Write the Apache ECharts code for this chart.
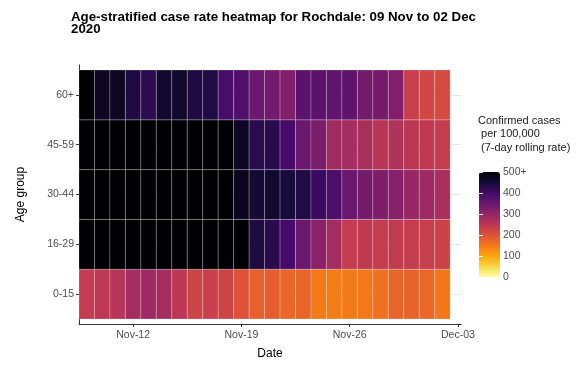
<!DOCTYPE html>
<html>
<head>
    <meta charset="UTF-8">
    <title>Rochdale heatmap</title>
    <script src="https://cdn.jsdelivr.net/npm/echarts@6/dist/echarts.min.js"></script>
</head>
<body style="margin:0">
<div id="main" style="width: 585px;height:365px;"></div>

<script>
    // days shown, Nov-09 .. Dec-02
    var dates = ['Nov-09', 'Nov-10', 'Nov-11', 'Nov-12', 'Nov-13', 'Nov-14', 'Nov-15', 'Nov-16',
        'Nov-17', 'Nov-18', 'Nov-19', 'Nov-20', 'Nov-21', 'Nov-22', 'Nov-23', 'Nov-24', 'Nov-25',
        'Nov-26', 'Nov-27', 'Nov-28', 'Nov-29', 'Nov-30', 'Dec-01', 'Dec-02'];
    var ageGroups = ['0-15', '16-29', '30-44', '45-59', '60+'];

    // x ticks (day index from Nov-09) and their labels
    var dateTickIdx = [3, 10, 17, 24];
    var dateTickLabels = ['Nov-12', 'Nov-19', 'Nov-26', 'Dec-03'];
    var legendTicks = [0, 100, 200, 300, 400, 500];

    // 7-day rolling rate per 100,000, one array per age group
    var rate0to15 = [240, 248, 256, 278, 288, 280, 250, 225, 232, 225, 200, 180,
        185, 172, 174, 148, 146, 148, 150, 160, 175, 177, 172, 152];
    var rate16to29 = [700, 760, 800, 820, 810, 790, 760, 720, 680, 620, 540, 442,
        428, 395, 350, 312, 280, 240, 245, 240, 242, 238, 235, 228];
    var rate30to44 = [620, 680, 700, 690, 680, 660, 650, 630, 600, 560, 476, 455,
        460, 446, 438, 410, 386, 350, 338, 326, 318, 294, 288, 274];
    var rate45to59 = [600, 640, 660, 650, 640, 620, 610, 590, 570, 540, 470, 428,
        430, 395, 350, 330, 285, 278, 272, 255, 262, 250, 246, 240];
    var rate60plus = [520, 470, 470, 440, 425, 458, 462, 440, 438, 392, 382, 348,
        340, 322, 370, 368, 362, 364, 338, 335, 322, 234, 220, 212];

    var rows = [rate0to15, rate16to29, rate30to44, rate45to59, rate60plus];

    // inferno, low -> high
    var inferno = ['#fcffa4', '#f6d746', '#fca50a', '#f37819', '#dd513a', '#bc3754',
        '#932667', '#6a176e', '#420a68', '#160b39', '#000004'];

    var cells = [];
    rows.forEach(function (row, yi) {
        row.forEach(function (v, xi) {
            cells.push([xi, yi, v]);
        });
    });

    var font = 'Liberation Sans, Arial, sans-serif';
    var labelGrey = '#4d4d4d';

    var myChart = echarts.init(document.getElementById('main'));
    var option = {
        animation: false,
        title: [{
            text: 'Age-stratified case rate heatmap for Rochdale: 09 Nov to 02 Dec\n2020',
            left: 71,
            top: 11,
            padding: 0,
            textStyle: {fontFamily: font, fontSize: 13.3, fontWeight: 'bold', color: '#000', lineHeight: 12.5}
        }, {
            text: 'Confirmed cases\n per 100,000\n (7-day rolling rate)',
            left: 478,
            top: 114,
            padding: 0,
            textStyle: {fontFamily: font, fontSize: 11, fontWeight: 'normal', color: '#1a1a1a', lineHeight: 13.5}
        }],
        grid: [{
            left: 79, right: 124, top: 65, bottom: 40
        }, {
            left: 479, top: 172, width: 21, height: 105
        }],
        xAxis: [{
            type: 'value',
            min: -0.5,
            max: 24.2,
            name: 'Date',
            nameLocation: 'middle',
            nameGap: 24,
            nameTextStyle: {fontFamily: font, fontSize: 12, color: '#000'},
            axisLine: {onZero: false, lineStyle: {color: '#333', width: 1}},
            axisTick: {customValues: dateTickIdx, length: 3, lineStyle: {color: '#333'}},
            axisLabel: {
                customValues: dateTickIdx,
                margin: 6,
                fontFamily: font, fontSize: 10.5, color: labelGrey,
                formatter: function (v) {
                    return dateTickLabels[dateTickIdx.indexOf(v)];
                }
            },
            splitLine: {show: false}
        }, {
            type: 'value', gridIndex: 1, show: false, min: 0, max: 1
        }],
        yAxis: [{
            type: 'value',
            min: -0.6,
            max: 4.6,
            name: 'Age group',
            nameLocation: 'middle',
            nameGap: 52,
            nameTextStyle: {fontFamily: font, fontSize: 12, color: '#000'},
            axisLine: {show: true, onZero: false, lineStyle: {color: '#333', width: 1}},
            axisTick: {show: true, customValues: [0, 1, 2, 3, 4], length: 3, lineStyle: {color: '#333'}},
            axisLabel: {
                customValues: [0, 1, 2, 3, 4],
                margin: 5,
                fontFamily: font, fontSize: 10.5, color: labelGrey,
                formatter: function (v) {
                    return ageGroups[v];
                }
            },
            splitLine: {show: true, lineStyle: {color: '#e6e6e6', width: 1}}
        }, {
            type: 'value', gridIndex: 1, position: 'right', min: 0, max: 500, z: 10,
            axisLine: {show: false},
            axisTick: {show: true, inside: true, customValues: legendTicks, length: 4, lineStyle: {color: '#fff'}},
            axisLabel: {
                customValues: legendTicks,
                margin: 3,
                fontFamily: font, fontSize: 10.5, color: labelGrey,
                formatter: function (v) {
                    return v === 500 ? '500+' : String(v);
                }
            },
            splitLine: {show: false}
        }, {
            type: 'value', gridIndex: 1, position: 'left', min: 0, max: 500, z: 10,
            axisLine: {show: false},
            axisTick: {show: true, inside: true, customValues: legendTicks, length: 4, lineStyle: {color: '#fff'}},
            axisLabel: {show: false},
            splitLine: {show: false}
        }],
        visualMap: {
            type: 'continuous',
            min: 0,
            max: 500,
            dimension: 2,
            seriesIndex: 0,
            calculable: false,
            hoverLink: false,
            orient: 'vertical',
            left: 479,
            top: 172,
            padding: 0,
            itemWidth: 21,
            itemHeight: 105,
            text: null,
            showLabel: false,
            inRange: {color: inferno}
        },
        series: [{
            type: 'custom',
            xAxisIndex: 0,
            yAxisIndex: 0,
            data: cells,
            encode: {x: 0, y: 1},
            renderItem: function (params, api) {
                var p = api.coord([api.value(0), api.value(1)]);
                var s = api.size([1, 1]);
                return {
                    type: 'rect',
                    shape: {x: p[0] - s[0] / 2, y: p[1] - s[1] / 2, width: s[0], height: s[1]},
                    style: {fill: api.visual('color'), stroke: 'rgba(255,255,255,0.28)', lineWidth: 0.8}
                };
            }
        }]
    };
    myChart.setOption(option);
</script>
</body>
</html>
